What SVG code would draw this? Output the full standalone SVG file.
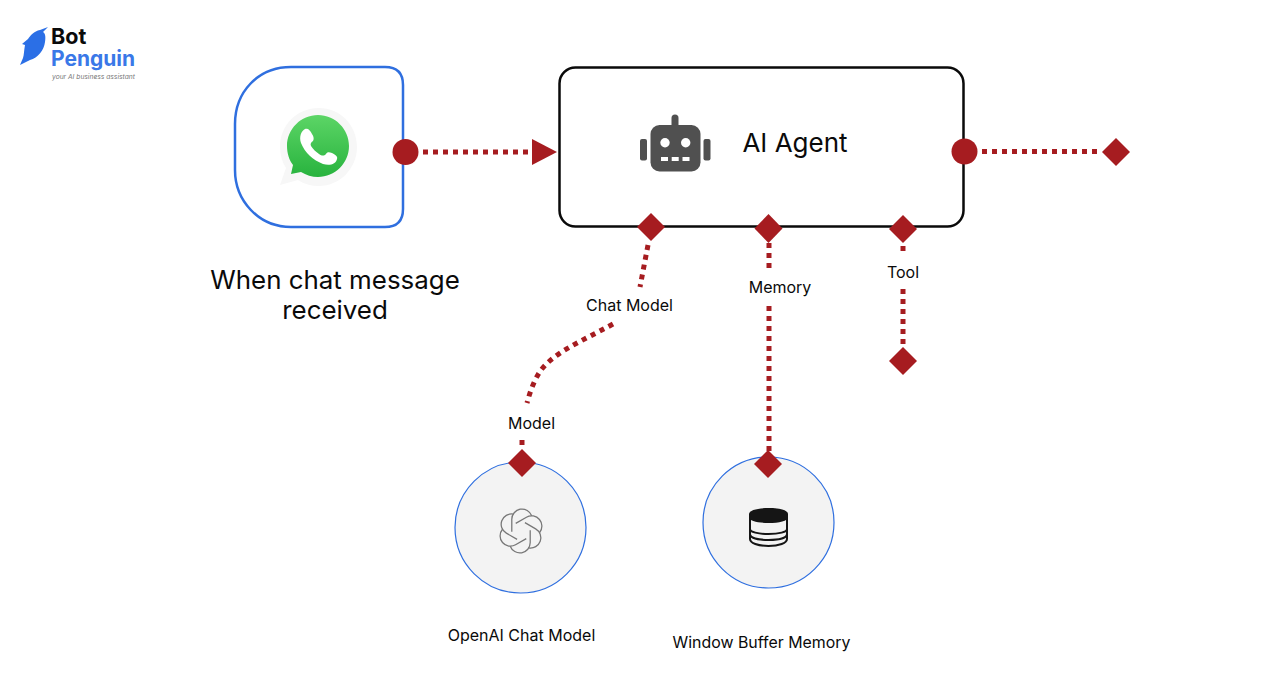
<svg xmlns="http://www.w3.org/2000/svg" width="1288" height="686" viewBox="0 0 1288 686">
<defs>
<linearGradient id="wa" x1="0" y1="0" x2="0" y2="1"><stop offset="0" stop-color="#5cd566"/><stop offset="1" stop-color="#28b33e"/></linearGradient>
<path id="lobe" d="M7.3 12.4V6.07A5.25 5.25 0 0 1 17.48 4.26"/>
<style>
text{font-family:Inter,"Liberation Sans",sans-serif;fill:#0a0a0a}
.lbl{font-size:16px;text-anchor:middle}
.big{font-size:25.900px;text-anchor:middle}
.dot{fill:none;stroke:#a61c20;stroke-width:5;stroke-dasharray:5 5}
.red{fill:#a61c20}
</style>
</defs>
<rect width="1288" height="686" fill="#fff"/>
<g id="logo">
<path d="M48 27L40 30C34 31 30 36 28 39L22 44L25 45C24 50 24 55 23 58L20 65L30 60C38 58 44 50 45 42C46 36 45 33 43 32Z" fill="#2b6fe6"/>
<text x="51" y="43.500" style="font-size:21.500px;font-weight:700;fill:#0a0a0a">Bot</text>
<text x="51" y="65.500" style="font-size:21px;font-weight:700;fill:#3a78e8">Penguin</text>
<text x="52" y="78.500" style="font-size:6.700px;font-style:italic;fill:#777">your AI business assistant</text>
</g>
<g id="connectors">
<path class="dot" d="M423 152H532"/>
<path class="dot" d="M982 151.500H1102"/>
<path class="dot" d="M648 245L640 287"/>
<path class="dot" d="M613 324C580 342 555 352 541 370C534 380 530 392 527 403"/>
<path class="dot" d="M522 440V448"/>
<path class="dot" d="M769 243V271"/>
<path class="dot" d="M769 306V451"/>
<path class="dot" d="M903 246V253"/>
<path class="dot" d="M903 289V348"/>
</g>
<g id="trigger">
<path d="M291 67H385Q403 67 403 85V209Q403 227 385 227H291C258 227 235 200 235 170V124C235 92 258 67 291 67Z" fill="#fff" stroke="#2f6fdf" stroke-width="2.500"/>
<path d="M319 108C297 108 280 125 280 147C280 155 282 162 286 168L280 185L298 180C304 184 311 186 319 186C340 186 357 168 357 147C357 125 340 108 319 108Z" fill="#f7f7f7"/>
<path d="M318 115C301 115 287 129 287 146C287 153 289 160 293 165L291 174L301 172C306 175 312 177 318 177C335 177 349 163 349 146C349 129 335 115 318 115Z" fill="url(#wa)"/>
<path d="M305 129C301 131 299 137 301 143C305 153 313 160 323 164C330 166 336 164 337 159C338 157 336 155 332 153C329 152 327 152 326 154C324 156 322 156 319 154C316 152 313 149 311 146C310 144 311 142 313 141C314 139 314 137 312 134C310 130 308 128 305 129Z" fill="#fff"/>
<circle class="red" cx="405.500" cy="152" r="13"/>
<path class="red" d="M532 139L557 152L532 165Z"/>
<text class="big" x="335" y="289">When chat message</text>
<text class="big" x="335" y="319">received</text>
</g>
<g id="agent">
<rect x="559.500" y="67.500" width="404" height="159" rx="16" fill="#fff" stroke="#0a0a0a" stroke-width="2.500"/>
<path d="M675 130V118" stroke="#505050" stroke-width="7" stroke-linecap="round" fill="none"/>
<rect x="650.500" y="125" width="50" height="46.500" rx="9" fill="#505050"/>
<rect x="640" y="139" width="7" height="21.500" rx="2" fill="#505050"/>
<rect x="703.500" y="139" width="7" height="21.500" rx="2" fill="#505050"/>
<circle cx="665" cy="142.700" r="4.700" fill="#fff"/>
<circle cx="685.700" cy="142.700" r="4.700" fill="#fff"/>
<path d="M661 161h7v-4h-7zM671.700 161h7v-4h-7zM682.500 161h7v-4h-7z" fill="#fff"/>
<text x="795" y="152" style="font-size:26px;text-anchor:middle">AI Agent</text>
<circle class="red" cx="964.500" cy="151.500" r="13"/>
<path class="red" d="M1116 138L1130 152L1116 166L1102 152Z"/>
<path class="red" d="M651 213L665 227L651 241L637 227Z"/>
<path class="red" d="M768.500 214L782.500 228.500L768.500 243L754.500 228.500Z"/>
<path class="red" d="M903 215L917 229L903 243L889 229Z"/>
<path class="red" d="M903 347L917 361L903 375L889 361Z"/>
<text class="lbl" x="629.500" y="310.500">Chat Model</text>
<text class="lbl" x="780" y="293">Memory</text>
<text class="lbl" x="903" y="277.500">Tool</text>
</g>
<g id="openai">
<circle cx="520.500" cy="527.500" r="65.500" fill="#f3f3f3" stroke="#2f6fdf" stroke-width="1.200"/>
<g fill="none" stroke="#777" stroke-width="0.650" transform="translate(521 531) scale(1.96) translate(-12 -12)">
<use href="#lobe"/>
<use href="#lobe" transform="rotate(60 12 12)"/>
<use href="#lobe" transform="rotate(120 12 12)"/>
<use href="#lobe" transform="rotate(180 12 12)"/>
<use href="#lobe" transform="rotate(240 12 12)"/>
<use href="#lobe" transform="rotate(300 12 12)"/>
</g>
<path class="red" d="M522 449L536 463L522 477L508 463Z"/>
<text class="lbl" x="531.500" y="428.500">Model</text>
<text class="lbl" x="521.500" y="640.500">OpenAI Chat Model</text>
</g>
<g id="memory">
<circle cx="768.500" cy="522.500" r="65.500" fill="#f3f3f3" stroke="#2f6fdf" stroke-width="1.200"/>
<path d="M750 514V539C750 543 758 546 768.500 546C779 546 787 543 787 539V514M750 529C750 532 758 534 768.500 534C779 534 787 532 787 529M750 534C750 538 758 540 768.500 540C779 540 787 538 787 534" fill="none" stroke="#151515" stroke-width="2"/>
<path d="M749 514C749 510 758 508 768.500 508C779 508 788 510 788 514V517C788 521 779 523 768.500 523C758 523 749 521 749 517Z" fill="#151515"/>
<path class="red" d="M768 450L782 464L768 478L754 464Z"/>
<text style="font-size:15.900px;text-anchor:middle" x="761.500" y="648">Window Buffer Memory</text>
</g>
</svg>
